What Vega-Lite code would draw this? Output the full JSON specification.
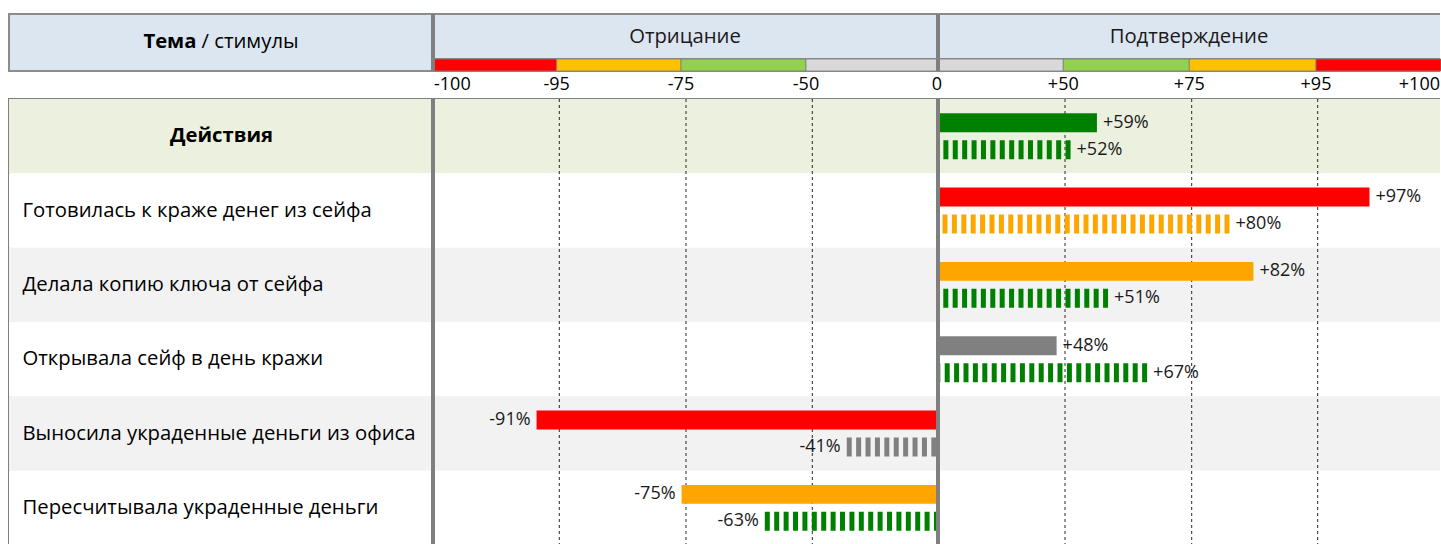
{
  "$schema": "https://vega.github.io/schema/vega-lite/v6.json",
  "padding": {"left": 8, "top": 11, "right": 0, "bottom": 0},
  "background": "#FFFFFF",
  "config": {
    "view": {"stroke": null},
    "font": "Open Sans",
    "text": {"font": "Open Sans", "color": "#000000"}
  },
  "datasets": {
    "header": [{"bold": "Тема", "rest": "/ стимулы"}],
    "sections": [{"section": "Отрицание"}, {"section": "Подтверждение"}],
    "rows": [
      {"topic": "Действия"},
      {"topic": "Готовилась к краже денег из сейфа"},
      {"topic": "Делала копию ключа от сейфа"},
      {"topic": "Открывала сейф в день кражи"},
      {"topic": "Выносила украденные деньги из офиса"},
      {"topic": "Пересчитывала украденные деньги"}
    ],
    "zones": [
      {"from": -100, "to": -95, "level": "extreme"},
      {"from": -95, "to": -75, "level": "high"},
      {"from": -75, "to": -50, "level": "medium"},
      {"from": -50, "to": 0, "level": "low"},
      {"from": 0, "to": 50, "level": "low"},
      {"from": 50, "to": 75, "level": "medium"},
      {"from": 75, "to": 95, "level": "high"},
      {"from": 95, "to": 100, "level": "extreme"}
    ],
    "ticks": [
      {"tick": -100, "label": "-100"},
      {"tick": -95, "label": "-95"},
      {"tick": -75, "label": "-75"},
      {"tick": -50, "label": "-50"},
      {"tick": 0, "label": "0"},
      {"tick": 50, "label": "+50"},
      {"tick": 75, "label": "+75"},
      {"tick": 95, "label": "+95"},
      {"tick": 100, "label": "+100"}
    ],
    "bars": [
      {"topic": "Действия", "series": "first", "value": 56.3, "label": "+59%", "level": "medium"},
      {"topic": "Действия", "series": "second", "value": 51.1, "label": "+52%", "level": "medium"},
      {"topic": "Готовилась к краже денег из сейфа", "series": "first", "value": 97.1, "label": "+97%", "level": "extreme"},
      {"topic": "Готовилась к краже денег из сейфа", "series": "second", "value": 81, "label": "+80%", "level": "high"},
      {"topic": "Делала копию ключа от сейфа", "series": "first", "value": 84.8, "label": "+82%", "level": "high"},
      {"topic": "Делала копию ключа от сейфа", "series": "second", "value": 58.5, "label": "+51%", "level": "medium"},
      {"topic": "Открывала сейф в день кражи", "series": "first", "value": 46.7, "label": "+48%", "level": "low"},
      {"topic": "Открывала сейф в день кражи", "series": "second", "value": 66.2, "label": "+67%", "level": "medium"},
      {"topic": "Выносила украденные деньги из офиса", "series": "first", "value": -95.9, "label": "-91%", "level": "extreme"},
      {"topic": "Выносила украденные деньги из офиса", "series": "second", "value": -36.3, "label": "-41%", "level": "low"},
      {"topic": "Пересчитывала украденные деньги", "series": "first", "value": -75.7, "label": "-75%", "level": "high"},
      {"topic": "Пересчитывала украденные деньги", "series": "second", "value": -59.4, "label": "-63%", "level": "medium"}
    ]
  },
  "columns": 3,
  "bounds": "flush",
  "align": "each",
  "spacing": 0,
  "resolve": {"scale": {"x": "independent", "y": "independent", "fill": "independent", "color": "independent", "yOffset": "independent"}},
  "concat": [
    {
      "width": 423, "height": 45,
      "data": {"name": "header"},
      "view": {"fill": "#DCE6F1", "stroke": "#8C8C8C", "strokeWidth": 2, "strokeDash": [468, 423, 45]},
      "layer": [
        {"mark": {"type": "text", "align": "right", "fontWeight": "bold", "fontSize": 20.3, "dx": -24, "dy": 5.5}, "encoding": {"text": {"field": "bold"}}},
        {"mark": {"type": "text", "align": "left", "fontSize": 20.3, "dx": -19, "dy": 5.5}, "encoding": {"text": {"field": "rest"}}}
      ]
    },
    {
      "width": 506, "height": 45,
      "view": {"fill": "#DCE6F1", "stroke": "#8C8C8C", "strokeWidth": 2},
      "layer": [
        {
          "data": {"name": "sections"},
          "transform": [{"filter": "datum.section === 'Отрицание'"}],
          "mark": {"type": "text", "fontSize": 20.3, "color": "#1A1A1A"},
          "encoding": {"text": {"field": "section"}}
        },
        {
          "data": {"name": "ticks"},
          "transform": [{"filter": "datum.tick === -100"}],
          "mark": {"type": "rule", "color": "#7F7F7F", "strokeWidth": 4},
          "encoding": {"x": {"field": "tick", "type": "quantitative", "axis": null, "scale": {"type": "linear", "domain": [-100, -95, -75, -50, 0], "range": [1, 124.7, 249, 374, 505], "nice": false, "zero": false}}}
        }
      ]
    },
    {
      "width": 502, "height": 45,
      "view": {"fill": "#DCE6F1", "stroke": "#8C8C8C", "strokeWidth": 2, "strokeDash": [502, 45, 547]},
      "layer": [
        {
          "data": {"name": "sections"},
          "transform": [{"filter": "datum.section === 'Подтверждение'"}],
          "mark": {"type": "text", "fontSize": 20.3, "color": "#1A1A1A"},
          "encoding": {"text": {"field": "section"}}
        },
        {
          "data": {"name": "ticks"},
          "transform": [{"filter": "datum.tick === 0"}],
          "mark": {"type": "rule", "color": "#7F7F7F", "strokeWidth": 4},
          "encoding": {"x": {"field": "tick", "type": "quantitative", "axis": null, "scale": {"type": "linear", "domain": [0, 50, 75, 95, 100], "range": [0, 125.3, 251.3, 378, 503], "nice": false, "zero": false}}}
        }
      ]
    },
    {
      "width": 423, "height": 12,
      "data": {"values": []},
      "view": {"fill": "#DCE6F1", "stroke": "#8C8C8C", "strokeWidth": 2, "strokeDash": [0, 423, 447]},
      "mark": "point"
    },
    {
      "width": 506, "height": 12,
      "view": {"stroke": "#8C8C8C", "strokeWidth": 2},
      "layer": [
        {
          "data": {"name": "zones"},
          "transform": [{"filter": "datum.to <= 0"}],
          "mark": {"type": "rect", "stroke": "#7F7F7F", "strokeWidth": 0.8},
          "encoding": {
            "x": {"field": "from", "type": "quantitative", "axis": null, "scale": {"type": "linear", "domain": [-100, -95, -75, -50, 0], "range": [1, 124.7, 249, 374, 505], "nice": false, "zero": false}},
            "x2": {"field": "to"},
            "fill": {"field": "level", "type": "nominal", "legend": null, "scale": {"domain": ["extreme", "high", "medium", "low"], "range": ["#FF0000", "#FFC000", "#92D050", "#D9D9D9"]}}
          }
        },
        {
          "data": {"name": "ticks"},
          "transform": [{"filter": "datum.tick === -100"}],
          "mark": {"type": "rule", "color": "#7F7F7F", "strokeWidth": 4},
          "encoding": {"x": {"field": "tick", "type": "quantitative", "axis": null}}
        }
      ]
    },
    {
      "width": 502, "height": 12,
      "view": {"stroke": "#8C8C8C", "strokeWidth": 2, "strokeDash": [502, 12, 514]},
      "layer": [
        {
          "data": {"name": "zones"},
          "transform": [{"filter": "datum.from >= 0"}],
          "mark": {"type": "rect", "stroke": "#7F7F7F", "strokeWidth": 0.8},
          "encoding": {
            "x": {"field": "from", "type": "quantitative", "axis": null, "scale": {"type": "linear", "domain": [0, 50, 75, 95, 100], "range": [0, 125.3, 251.3, 378, 503], "nice": false, "zero": false}},
            "x2": {"field": "to"},
            "fill": {"field": "level", "type": "nominal", "legend": null, "scale": {"domain": ["extreme", "high", "medium", "low"], "range": ["#FF0000", "#FFC000", "#92D050", "#D9D9D9"]}}
          }
        },
        {
          "data": {"name": "ticks"},
          "transform": [{"filter": "datum.tick === 0"}],
          "mark": {"type": "rule", "color": "#7F7F7F", "strokeWidth": 4},
          "encoding": {"x": {"field": "tick", "type": "quantitative", "axis": null}}
        }
      ]
    },
    {
      "width": 423, "height": 28,
      "data": {"values": []},
      "mark": "point"
    },
    {
      "width": 506, "height": 28,
      "data": {"name": "ticks"},
      "transform": [{"filter": "datum.tick <= 0"}],
      "mark": {"type": "text", "fontSize": 18, "color": "#000000", "dx": {"expr": "datum.tick === -100 ? 1 : 0"}, "align": {"expr": "datum.tick === -100 ? 'left' : 'center'"}},
      "encoding": {
        "x": {"field": "tick", "type": "quantitative", "axis": null, "scale": {"type": "linear", "domain": [-100, -95, -75, -50, 0], "range": [1, 124.7, 249, 374, 505], "nice": false, "zero": false}},
        "text": {"field": "label"}
      }
    },
    {
      "width": 502, "height": 28,
      "data": {"name": "ticks"},
      "transform": [{"filter": "datum.tick > 0"}],
      "mark": {"type": "text", "fontSize": 18, "color": "#000000", "align": {"expr": "datum.tick === 100 ? 'right' : 'center'"}},
      "encoding": {
        "x": {"field": "tick", "type": "quantitative", "axis": null, "scale": {"type": "linear", "domain": [0, 50, 75, 95, 100], "range": [0, 125.3, 251.3, 378, 502], "nice": false, "zero": false}},
        "text": {"field": "label"}
      }
    },
    {
      "width": 423, "height": 446,
      "data": {"name": "rows"},
      "view": {"stroke": "#808080", "strokeWidth": 2, "strokeDash": [869, 423, 446]},
      "mark": {"type": "rect"},
      "encoding": {
        "y": {
          "field": "topic", "type": "nominal", "sort": null,
          "scale": {"domain": ["Действия", "Готовилась к краже денег из сейфа", "Делала копию ключа от сейфа", "Открывала сейф в день кражи", "Выносила украденные деньги из офиса", "Пересчитывала украденные деньги"], "paddingInner": 0, "paddingOuter": 0},
          "axis": {
            "orient": "left", "title": null, "ticks": false, "domain": false, "grid": false,
            "minExtent": 0,
            "labelFont": "Open Sans", "labelFontSize": 20.3, "labelColor": "#000000",
            "labelLimit": 0, "labelOverlap": false, "labelBound": false,
            "labelAlign": {"condition": {"test": "datum.value === 'Действия'", "value": "center"}, "value": "left"},
            "labelPadding": {"condition": {"test": "datum.value === 'Действия'", "value": -212}, "value": -13},
            "labelFontWeight": {"condition": {"test": "datum.value === 'Действия'", "value": "bold"}, "value": "normal"}
          }
        },
        "fill": {
          "field": "topic", "type": "nominal", "legend": null,
          "scale": {"domain": ["Действия", "Готовилась к краже денег из сейфа", "Делала копию ключа от сейфа", "Открывала сейф в день кражи", "Выносила украденные деньги из офиса", "Пересчитывала украденные деньги"], "range": ["#EBF1DE", "#FFFFFF", "#F2F2F2", "#FFFFFF", "#F2F2F2", "#FFFFFF"]}
        }
      }
    },
    {
      "width": 506, "height": 446,
      "view": {"stroke": "#808080", "strokeWidth": 2, "strokeDash": [506, 3000]},
      "layer": [
        {
          "data": {"name": "rows"},
          "mark": {"type": "rect"},
          "encoding": {
            "y": {"field": "topic", "type": "nominal", "sort": null, "axis": null, "scale": {"domain": ["Действия", "Готовилась к краже денег из сейфа", "Делала копию ключа от сейфа", "Открывала сейф в день кражи", "Выносила украденные деньги из офиса", "Пересчитывала украденные деньги"], "paddingInner": 0, "paddingOuter": 0}},
            "fill": {"field": "topic", "type": "nominal", "legend": null, "scale": {"domain": ["Действия", "Готовилась к краже денег из сейфа", "Делала копию ключа от сейфа", "Открывала сейф в день кражи", "Выносила украденные деньги из офиса", "Пересчитывала украденные деньги"], "range": ["#EBF1DE", "#FFFFFF", "#F2F2F2", "#FFFFFF", "#F2F2F2", "#FFFFFF"]}}
          }
        },
        {
          "data": {"name": "ticks"},
          "transform": [{"filter": "datum.tick < 0 && datum.tick > -100"}],
          "mark": {"type": "rule", "color": "#262626", "strokeWidth": 1, "strokeDash": [3, 3]},
          "encoding": {"x": {"field": "tick", "type": "quantitative", "axis": null, "scale": {"type": "linear", "domain": [-100, -95, -75, -50, 0], "range": [1, 127.3, 254, 380.3, 506], "nice": false, "zero": false}}}
        },
        {
          "data": {"name": "bars"},
          "transform": [{"filter": "datum.value < 0 && datum.series === 'first'"}],
          "mark": {"type": "bar"},
          "encoding": {
            "y": {"field": "topic", "type": "nominal", "sort": null, "axis": null},
            "yOffset": {"field": "series", "type": "nominal", "scale": {"domain": ["first", "second"], "paddingInner": 0.296, "paddingOuter": 0.528}},
            "x": {"field": "value", "type": "quantitative", "axis": null},
            "x2": {"datum": 0},
            "color": {"field": "level", "type": "nominal", "legend": null, "scale": {"domain": ["extreme", "high", "medium", "low"], "range": ["#FF0000", "#FFA500", "#008000", "#808080"]}}
          }
        },
        {
          "data": {"name": "bars"},
          "transform": [{"filter": "datum.value < 0 && datum.series === 'second'"}],
          "mark": {"type": "rule", "strokeWidth": 19, "strokeDash": [5, 4.4], "strokeCap": "butt"},
          "encoding": {
            "y": {"field": "topic", "type": "nominal", "sort": null, "axis": null},
            "yOffset": {"field": "series", "type": "nominal"},
            "x": {"field": "value", "type": "quantitative", "axis": null},
            "x2": {"datum": 0},
            "color": {"field": "level", "type": "nominal", "legend": null}
          }
        },
        {
          "data": {"name": "ticks"},
          "transform": [{"filter": "datum.tick === -100"}],
          "mark": {"type": "rule", "color": "#7F7F7F", "strokeWidth": 4},
          "encoding": {"x": {"field": "tick", "type": "quantitative", "axis": null}}
        },
        {
          "data": {"name": "bars"},
          "transform": [{"filter": "datum.value < 0"}],
          "mark": {"type": "text", "fontSize": 18, "color": "#1A1A1A", "align": "right", "dx": -6},
          "encoding": {
            "y": {"field": "topic", "type": "nominal", "sort": null, "axis": null},
            "yOffset": {"field": "series", "type": "nominal"},
            "x": {"field": "value", "type": "quantitative", "axis": null},
            "text": {"field": "label"}
          }
        }
      ]
    },
    {
      "width": 502, "height": 446,
      "view": {"stroke": "#808080", "strokeWidth": 2, "strokeDash": [502, 3000]},
      "layer": [
        {
          "data": {"name": "rows"},
          "mark": {"type": "rect"},
          "encoding": {
            "y": {"field": "topic", "type": "nominal", "sort": null, "axis": null, "scale": {"domain": ["Действия", "Готовилась к краже денег из сейфа", "Делала копию ключа от сейфа", "Открывала сейф в день кражи", "Выносила украденные деньги из офиса", "Пересчитывала украденные деньги"], "paddingInner": 0, "paddingOuter": 0}},
            "fill": {"field": "topic", "type": "nominal", "legend": null, "scale": {"domain": ["Действия", "Готовилась к краже денег из сейфа", "Делала копию ключа от сейфа", "Открывала сейф в день кражи", "Выносила украденные деньги из офиса", "Пересчитывала украденные деньги"], "range": ["#EBF1DE", "#FFFFFF", "#F2F2F2", "#FFFFFF", "#F2F2F2", "#FFFFFF"]}}
          }
        },
        {
          "data": {"name": "ticks"},
          "transform": [{"filter": "datum.tick > 0 && datum.tick < 100"}],
          "mark": {"type": "rule", "color": "#262626", "strokeWidth": 1, "strokeDash": [3, 3]},
          "encoding": {"x": {"field": "tick", "type": "quantitative", "axis": null, "scale": {"type": "linear", "domain": [0, 50, 75, 95, 100], "range": [0, 127, 253.7, 379.7, 503], "nice": false, "zero": false}}}
        },
        {
          "data": {"name": "bars"},
          "transform": [{"filter": "datum.value > 0 && datum.series === 'first'"}],
          "mark": {"type": "bar"},
          "encoding": {
            "y": {"field": "topic", "type": "nominal", "sort": null, "axis": null},
            "yOffset": {"field": "series", "type": "nominal", "scale": {"domain": ["first", "second"], "paddingInner": 0.296, "paddingOuter": 0.528}},
            "x": {"field": "value", "type": "quantitative", "axis": null},
            "x2": {"datum": 0},
            "color": {"field": "level", "type": "nominal", "legend": null, "scale": {"domain": ["extreme", "high", "medium", "low"], "range": ["#FF0000", "#FFA500", "#008000", "#808080"]}}
          }
        },
        {
          "data": {"name": "bars"},
          "transform": [{"filter": "datum.value > 0 && datum.series === 'second'"}],
          "mark": {"type": "rule", "strokeWidth": 19, "strokeDash": [5, 4.4], "strokeCap": "butt"},
          "encoding": {
            "y": {"field": "topic", "type": "nominal", "sort": null, "axis": null},
            "yOffset": {"field": "series", "type": "nominal"},
            "x": {"field": "value", "type": "quantitative", "axis": null},
            "x2": {"datum": 0},
            "color": {"field": "level", "type": "nominal", "legend": null}
          }
        },
        {
          "data": {"name": "ticks"},
          "transform": [{"filter": "datum.tick === 0"}],
          "mark": {"type": "rule", "color": "#7F7F7F", "strokeWidth": 4},
          "encoding": {"x": {"field": "tick", "type": "quantitative", "axis": null}}
        },
        {
          "data": {"name": "bars"},
          "transform": [{"filter": "datum.value > 0"}],
          "mark": {"type": "text", "fontSize": 18, "color": "#1A1A1A", "align": "left", "dx": 6},
          "encoding": {
            "y": {"field": "topic", "type": "nominal", "sort": null, "axis": null},
            "yOffset": {"field": "series", "type": "nominal"},
            "x": {"field": "value", "type": "quantitative", "axis": null},
            "text": {"field": "label"}
          }
        }
      ]
    }
  ]
}
